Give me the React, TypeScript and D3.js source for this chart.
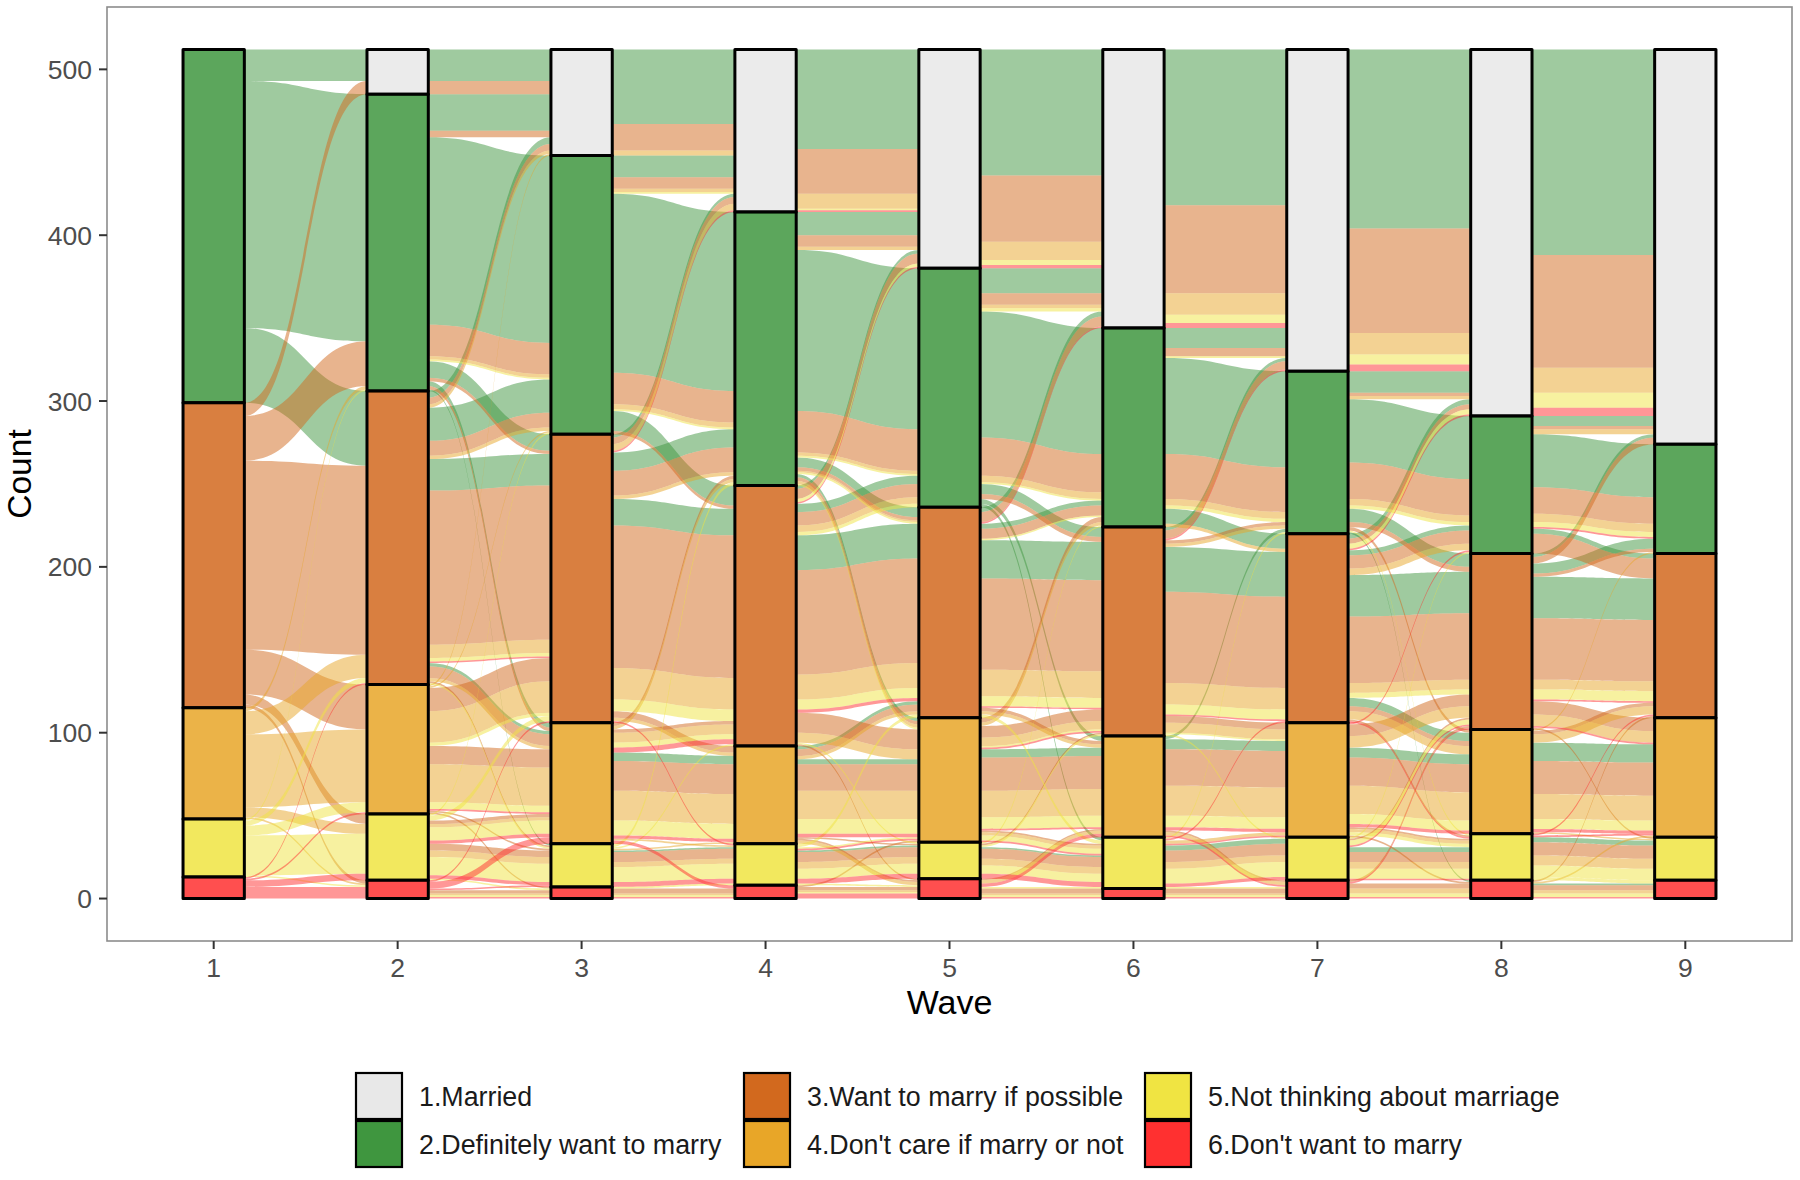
import React from "react";
import * as d3 from "d3";

// response categories (stratum order, top to bottom)
const categories = [
  "1.Married",
  "2.Definitely want to marry",
  "3.Want to marry if possible",
  "4.Don't care if marry or not",
  "5.Not thinking about marriage",
  "6.Don't want to marry",
];
const colors = ["#E8E8E8", "#3F963F", "#D2691E", "#E8A628", "#F0E442", "#FF3030"];
const waves = [1, 2, 3, 4, 5, 6, 7, 8, 9];
const yTicks = [0, 100, 200, 300, 400, 500];

// response trajectories over the 9 waves (digit = category), with number of respondents,
// grouped by the wave-1 response
const fromDefinitely: [string, number][] = [
  ["211111111", 19], ["221111111", 22], ["231111111", 4], ["222111111", 10], ["232111111", 3], ["223111111", 2],
  ["222211111", 9], ["233211111", 3], ["222311111", 2], ["232211111", 2],
  ["222221111", 13], ["222231111", 3], ["232221111", 2],
  ["222222111", 10], ["222223111", 2], ["232222111", 2],
  ["222222211", 11], ["222222311", 3], ["223222211", 2],
  ["222222221", 5], ["222222231", 2], ["232222221", 1],
  ["222222222", 14], ["232222222", 6], ["233333333", 8], ["222333333", 5], ["222223333", 2], ["233223333", 2],
  ["223322332", 3], ["222222233", 4], ["224444444", 3], ["222224444", 3], ["233222222", 4], ["222222223", 3],
  ["223333322", 3], ["222225555", 2], ["225555555", 1], ["222222266", 1], ["232322233", 2], ["222332222", 3],
  ["234433333", 2], ["222222344", 3], ["222233332", 1], ["232233332", 2], ["233333344", 2], ["222244222", 2],
];

const fromWantIfPossible: [string, number][] = [
  ["311111111", 8], ["321111111", 4], ["331111111", 4],
  ["322111111", 4], ["332111111", 3], ["333111111", 4],
  ["322211111", 4], ["333211111", 3], ["333311111", 4], ["343311111", 2],
  ["332221111", 4], ["333321111", 3], ["333331111", 4], ["324331111", 2],
  ["322222111", 3], ["333332111", 2], ["333333111", 3], ["334433111", 2],
  ["332222211", 2], ["333333311", 3],
  ["323222221", 2], ["333333331", 2], ["333343331", 2],
  ["333333333", 30], ["322222222", 4], ["322333333", 2], ["322233332", 2], ["333222223", 8], ["334222244", 2],
  ["333243222", 2], ["333323322", 3], ["343322222", 2], ["333332222", 2], ["333332223", 2], ["344442233", 3],
  ["333333322", 3], ["333433323", 2],
  ["344444443", 2], ["344443444", 2], ["343344444", 6], ["334444444", 3], ["333344434", 3], ["343333344", 2],
  ["333333444", 2], ["343333334", 2], ["333444434", 2], ["344444433", 2], ["333334444", 2],
  ["355555555", 4], ["335555555", 1], ["354445535", 1], ["345553344", 1], ["354444455", 1], ["344455555", 1],
  ["333343355", 1],
  ["366666666", 1], ["366644466", 1], ["346666666", 1], ["333366663", 1], ["344464634", 1],
];

const fromDontCare: [string, number][] = [
  ["431111111", 2], ["441111111", 1], ["433111111", 2], ["432111111", 2], ["443111111", 2], ["433211111", 2],
  ["443321111", 2], ["433322211", 2], ["444333321", 3],
  ["444444444", 3], ["433333334", 2], ["444333434", 3], ["443344433", 2], ["444434434", 2],
  ["443333333", 4], ["443344444", 4], ["443333444", 3], ["444443343", 3], ["434444443", 2],
  ["422222222", 2], ["442233322", 1], ["444243222", 2], ["443442344", 2], ["444444442", 1],
  ["455555555", 3], ["455444444", 1], ["454444444", 2], ["444555555", 1], ["444445455", 2], ["444444445", 1],
  ["466666666", 1], ["444464666", 1], ["444464664", 1],
];

const fromNotThinking: [string, number][] = [
  ["552111111", 1], ["553311111", 2], ["543321111", 2], ["553332111", 1], ["554333311", 3],
  ["544444444", 2], ["544445555", 2], ["554444455", 2], ["554445555", 1], ["554444444", 2], ["555544444", 1],
  ["522222222", 1], ["555235222", 1], ["555243522", 1], ["555552255", 1], ["533333333", 2], ["535555555", 1],
  ["555353333", 1], ["555533444", 1], ["555535533", 1], ["555555533", 2], ["566666666", 1], ["556555666", 1],
  ["555565556", 1], ["555555556", 1],
];

const fromDontWant: [string, number][] = [
  ["633111111", 1], ["664311111", 1], ["654331111", 1], ["664333111", 1], ["654443311", 1],
  ["666666666", 1], ["644444444", 1], ["655555444", 1], ["655555534", 1], ["664664633", 1], ["664664422", 1],
  ["663545353", 1], ["665555554", 1],
];

type Flow = { w: number; a: number; b: number; o: number; n: number; ya0: number; ya1: number; yb0: number; yb1: number };

export default function App() {
  const width = 1800;
  const height = 1180;
  const font = "'Liberation Sans', Arial, Helvetica, sans-serif";

  const x = d3.scaleLinear().domain([0.42, 9.58]).range([107, 1792]);
  const y = d3.scaleLinear().domain([-25.6, 537.6]).range([941, 7]);
  const bw = x(1 + 1 / 3) - x(1);

  const people = [...fromDefinitely, ...fromWantIfPossible, ...fromDontCare, ...fromNotThinking, ...fromDontWant].map(
    ([s, n]) => ({ s: s.split("").map(Number), n })
  );
  const total = d3.sum(people, (p) => p.n);

  // stratum sizes and tops per wave
  const counts = waves.map((_, w) => {
    const arr = [0, 0, 0, 0, 0, 0, 0];
    people.forEach((p) => (arr[p.s[w]] += p.n));
    return arr;
  });
  const tops = counts.map((arr) => {
    const t: number[] = [];
    let cur = total;
    for (let c = 1; c <= 6; c++) {
      t[c] = cur;
      cur -= arr[c];
    }
    return t;
  });

  // flows between adjacent waves, split by wave-1 response
  const flows: Flow[] = [];
  for (let w = 0; w < waves.length - 1; w++) {
    const roll = d3.rollup(
      people,
      (v) => d3.sum(v, (p) => p.n),
      (p) => p.s[w],
      (p) => p.s[w + 1],
      (p) => p.s[0]
    );
    const list: Flow[] = [];
    roll.forEach((m1, a) =>
      m1.forEach((m2, b) => m2.forEach((n, o) => list.push({ w, a, b, o, n, ya0: 0, ya1: 0, yb0: 0, yb1: 0 })))
    );
    const outCur = tops[w].slice();
    list
      .slice()
      .sort((p, q) => p.a - q.a || p.b - q.b || p.o - q.o)
      .forEach((f) => {
        f.ya0 = outCur[f.a];
        outCur[f.a] -= f.n;
        f.ya1 = outCur[f.a];
      });
    const inCur = tops[w + 1].slice();
    list
      .slice()
      .sort((p, q) => p.b - q.b || p.a - q.a || p.o - q.o)
      .forEach((f) => {
        f.yb0 = inCur[f.b];
        inCur[f.b] -= f.n;
        f.yb1 = inCur[f.b];
      });
    list.sort((p, q) => p.o - q.o || p.a - q.a || p.b - q.b);
    flows.push(...list);
  }

  const flowPath = (f: Flow) => {
    const x0 = x(waves[f.w]) + bw / 2;
    const x1 = x(waves[f.w + 1]) - bw / 2;
    const k = (x1 - x0) * 0.5;
    const p = d3.path();
    p.moveTo(x0, y(f.ya0));
    p.bezierCurveTo(x0 + k, y(f.ya0), x1 - k, y(f.yb0), x1, y(f.yb0));
    p.lineTo(x1, y(f.yb1));
    p.bezierCurveTo(x1 - k, y(f.yb1), x0 + k, y(f.ya1), x0, y(f.ya1));
    p.closePath();
    return p.toString();
  };

  const legendCols = [356, 744, 1145];
  const legendRows = [1073, 1121];
  const keySize = 46;

  return (
    <div style={{ position: "absolute", left: 0, top: 0 }}>
      <svg width={width} height={height} style={{ display: "block", background: "#fff" }} fontFamily={font}>
        <rect x={0} y={0} width={width} height={height} fill="#fff" />

        {/* flows */}
        <g>
          {flows.map((f, i) => (
            <path key={i} d={flowPath(f)} fill={colors[f.o - 1]} fillOpacity={0.5} stroke="none" />
          ))}
        </g>

        {/* strata */}
        <g>
          {waves.map((wv, w) =>
            [1, 2, 3, 4, 5, 6]
              .filter((c) => counts[w][c] > 0)
              .map((c) => (
                <rect
                  key={`${wv}-${c}`}
                  x={x(wv) - bw / 2}
                  y={y(tops[w][c])}
                  width={bw}
                  height={y(tops[w][c] - counts[w][c]) - y(tops[w][c])}
                  fill={colors[c - 1]}
                  fillOpacity={0.85}
                  stroke="#000"
                  strokeWidth={3}
                  strokeLinejoin="round"
                />
              ))
          )}
        </g>

        {/* panel border */}
        <rect x={107} y={7} width={1792 - 107} height={941 - 7} fill="none" stroke="#8c8c8c" strokeWidth={1.6} />

        {/* y axis */}
        <g>
          {yTicks.map((t) => (
            <g key={t}>
              <line x1={99} x2={107} y1={y(t)} y2={y(t)} stroke="#333" strokeWidth={2} />
              <text x={92} y={y(t)} dy="0.36em" textAnchor="end" fontSize={26.5} fill="#4d4d4d">
                {t}
              </text>
            </g>
          ))}
          <text transform={`translate(31,474) rotate(-90)`} textAnchor="middle" fontSize={33.5} fill="#000">
            Count
          </text>
        </g>

        {/* x axis */}
        <g>
          {waves.map((wv) => (
            <g key={wv}>
              <line x1={x(wv)} x2={x(wv)} y1={941} y2={949} stroke="#333" strokeWidth={2} />
              <text x={x(wv)} y={977} textAnchor="middle" fontSize={26.5} fill="#4d4d4d">
                {wv}
              </text>
            </g>
          ))}
          <text x={949.5} y={1014} textAnchor="middle" fontSize={34} fill="#000">
            Wave
          </text>
        </g>

        {/* legend */}
        <g>
          {categories.map((cat, i) => {
            const col = Math.floor(i / 2);
            const row = i % 2;
            const kx = legendCols[col];
            const ky = legendRows[row];
            return (
              <g key={cat}>
                <rect x={kx} y={ky} width={keySize} height={keySize} fill={colors[i]} stroke="#000" strokeWidth={2.2} />
                <text x={kx + keySize + 17} y={ky + keySize / 2} dy="0.36em" fontSize={26.8} fill="#1a1a1a">
                  {cat}
                </text>
              </g>
            );
          })}
        </g>
      </svg>
    </div>
  );
}
